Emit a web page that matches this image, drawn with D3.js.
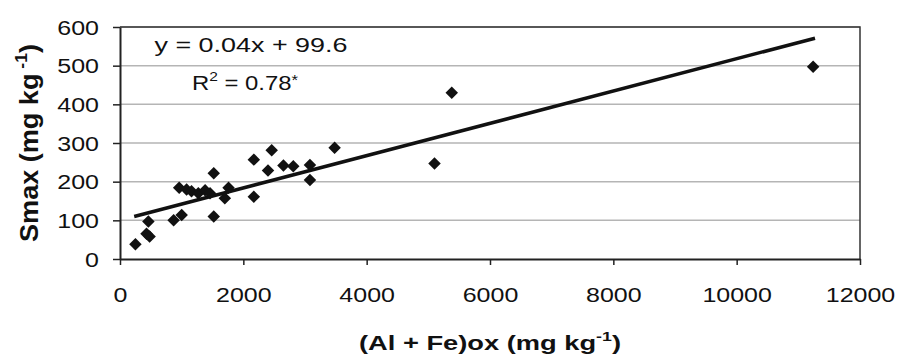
<!DOCTYPE html>
<html>
<head>
<meta charset="utf-8">
<script src="https://cdn.jsdelivr.net/npm/d3@7"></script>
<style>
  html, body { margin: 0; padding: 0; background: #fff; }
  svg { display: block; font-family: Arial, "Liberation Sans", sans-serif; }
</style>
</head>
<body>
<svg id="chart" width="901" height="363"></svg>
<script>
// ---- data ----
const alFeOx = [250, 430, 480, 460, 870, 1000, 960, 1080, 1160, 1270, 1380, 1460, 1520, 1520, 1700, 1760, 2170, 2170, 2400, 2460, 2650, 2810, 3080, 3080, 3480, 5100, 5380, 11240];
const smax   = [38, 65, 58, 97, 100, 114, 184, 180, 175, 170, 178, 170, 222, 110, 157, 184, 257, 161, 229, 281, 242, 240, 243, 204, 288, 247, 430, 497];
const trendX = [230, 11270];
const trendY = [110, 571];
const xTicks = [0, 2000, 4000, 6000, 8000, 10000, 12000];
const yTicks = [0, 100, 200, 300, 400, 500, 600];
const eqLine1 = "y = 0.04x + 99.6";
const eqR2 = "0.78";

// ---- layout ----
const svg = d3.select("#chart");
const L = 120, R = 860, T = 27, B = 259;
const x = d3.scaleLinear().domain([0, 12000]).range([L, R]);
const y = d3.scaleLinear().domain([0, 600]).range([B, T]);
const SX = 1.25; // horizontal stretch of text in the reference

// gridlines
svg.append("g").selectAll("line").data(yTicks.filter(d => d > 0)).join("line")
  .attr("x1", L).attr("x2", R)
  .attr("y1", d => y(d)).attr("y2", d => y(d))
  .attr("stroke", "#b5b5b5").attr("stroke-width", 1.5);

// frame (top & right)
svg.append("path")
  .attr("d", `M${L},${T}H${R}V${B}`)
  .attr("fill", "none").attr("stroke", "#333").attr("stroke-width", 1.5);

// y axis
const gy = svg.append("g").attr("transform", `translate(${L},0)`)
  .call(d3.axisLeft(y).tickValues(yTicks).tickSize(7).tickSizeOuter(0));
gy.select(".domain").attr("stroke", "#222").attr("stroke-width", 2);
gy.selectAll(".tick line").attr("stroke", "#222").attr("stroke-width", 1.5);
gy.selectAll(".tick text")
  .attr("x", 0).attr("dy", "0.36em")
  .attr("transform", `translate(-21,0) scale(${SX},1)`)
  .attr("font-size", 20).attr("fill", "#111");

// x axis
const gx = svg.append("g").attr("transform", `translate(0,${B})`)
  .call(d3.axisBottom(x).tickValues(xTicks).tickFormat(d3.format("d")).tickSize(6).tickSizeOuter(0));
gx.select(".domain").attr("stroke", "#222").attr("stroke-width", 2);
gx.selectAll(".tick line").attr("stroke", "#222").attr("stroke-width", 1.5);
gx.selectAll(".tick text")
  .attr("y", 0).attr("dy", 0)
  .attr("transform", `translate(0,43) scale(${SX},1)`)
  .attr("font-size", 20).attr("fill", "#111");

// trend line
svg.append("path")
  .datum(trendX.map((d, i) => [d, trendY[i]]))
  .attr("d", d3.line().x(d => x(d[0])).y(d => y(d[1])))
  .attr("fill", "none").attr("stroke", "#111").attr("stroke-width", 3.5);

// points (diamonds)
svg.append("g").selectAll("path").data(alFeOx.map((d, i) => [d, smax[i]])).join("path")
  .attr("d", d3.symbol(d3.symbolSquare, 78))
  .attr("transform", d => `translate(${x(d[0])},${y(d[1])}) rotate(45)`)
  .attr("fill", "#111");

// equation
const eq = svg.append("g").attr("font-size", 20).attr("fill", "#111");
eq.append("text").attr("x", 251).attr("y", 52).attr("text-anchor", "middle")
  .attr("textLength", 193).attr("lengthAdjust", "spacingAndGlyphs")
  .text(eqLine1);
const r2 = eq.append("text").attr("x", 245).attr("y", 90).attr("text-anchor", "middle")
  .attr("textLength", 106).attr("lengthAdjust", "spacingAndGlyphs");
r2.append("tspan").text("R");
r2.append("tspan").attr("font-size", 13).attr("dy", -9).text("2");
r2.append("tspan").attr("dy", 9).text(" = " + eqR2);
r2.append("tspan").attr("font-size", 14).attr("dy", -5).text("*");

// axis titles
const xt = svg.append("text").attr("x", 490).attr("y", 350).attr("text-anchor", "middle")
  .attr("font-weight", "bold").attr("font-size", 20).attr("fill", "#111")
  .attr("textLength", 262).attr("lengthAdjust", "spacingAndGlyphs");
xt.append("tspan").text("(Al + Fe)ox (mg kg");
xt.append("tspan").attr("font-size", 13).attr("dy", -9).text("-1");
xt.append("tspan").attr("dy", 9).text(")");

const yt = svg.append("text")
  .attr("transform", "translate(38,143) rotate(-90) scale(1,1.25)")
  .attr("text-anchor", "middle")
  .attr("font-weight", "bold").attr("font-size", 20).attr("fill", "#111")
  .attr("textLength", 198).attr("lengthAdjust", "spacingAndGlyphs");
yt.append("tspan").text("Smax (mg kg");
yt.append("tspan").attr("font-size", 13).attr("dy", -9).text(" -1");
yt.append("tspan").attr("dy", 9).text(")");
</script>
</body>
</html>
